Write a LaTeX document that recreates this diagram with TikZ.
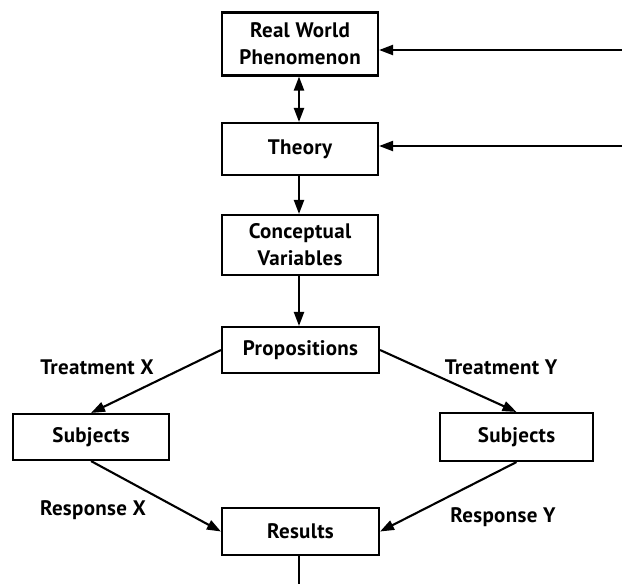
\documentclass[tikz,border=0pt]{standalone}
\usepackage{fontspec}
\setmainfont{PT Sans}[LetterSpace=1.5]
\usetikzlibrary{arrows.meta}
\begin{document}
\begin{tikzpicture}[x=1pt,y=-1pt,
  txt/.style={font=\bfseries\fontsize{21}{27}\selectfont},
  box/.style={draw, line width=2.1pt, inner sep=0pt, align=center, txt},
  lbl/.style={inner sep=0pt, txt},
  tip/.tip={Triangle[length=14pt,width=10pt]},
  link/.style={line width=2.1pt, -tip},
  both/.style={line width=2.1pt, tip-tip},
  plain/.style={line width=2.1pt}]
  \useasboundingbox (0,0) rectangle (622,584);

  % boxes of the chain
  \node[box, minimum width=156pt, minimum height=63pt] (rw) at (300,44) {Real World\\Phenomenon};
  \node[box, minimum width=156pt, minimum height=52pt] (th) at (300,149) {Theory};
  \node[box, minimum width=156pt, minimum height=60pt] (cv) at (300,245) {Conceptual\\Variables};
  \node[box, minimum width=157pt, minimum height=46pt] (pr) at (300.5,350) {Propositions};
  \node[box, minimum width=156pt, minimum height=46pt] (sx) at (91,437) {Subjects};
  \node[box, minimum width=153pt, minimum height=48pt] (sy) at (516.5,437) {Subjects};
  \node[box, minimum width=157pt, minimum height=47pt] (rs) at (300.5,531.5) {Results};

  % edge labels
  \node[lbl] (tx) at (97,367) {Treatment X};
  \node[lbl] (ty) at (501,367) {Treatment Y};
  \node[lbl] (rx) at (93,510) {Response X};
  \node[lbl] (ry) at (503,517) {Response Y};

  % loose ends of the feedback lines
  \coordinate (in1) at (622,50);
  \coordinate (in2) at (622,146);
  \coordinate (out) at (299,584);

  % connectors
  \draw[link] (in1) -- (in1 -| rw.east);
  \draw[link] (in2) -- (in2 -| th.east);
  \draw[both] (299,0 |- rw.south) -- (299,0 |- th.north);
  \draw[link] (299,0 |- th.south) -- (299,0 |- cv.north);
  \draw[link] (299,0 |- cv.south) -- (299,0 |- pr.north);
  \draw[link] (pr.west) -- (sx.north);
  \draw[link] (pr.east) -- (sy.north);
  \draw[link] (sx.south) -- (rs.west);
  \draw[link] (sy.south) -- (rs.east);
  \draw[plain] (out |- rs.south) -- (out);
\end{tikzpicture}
\end{document}
